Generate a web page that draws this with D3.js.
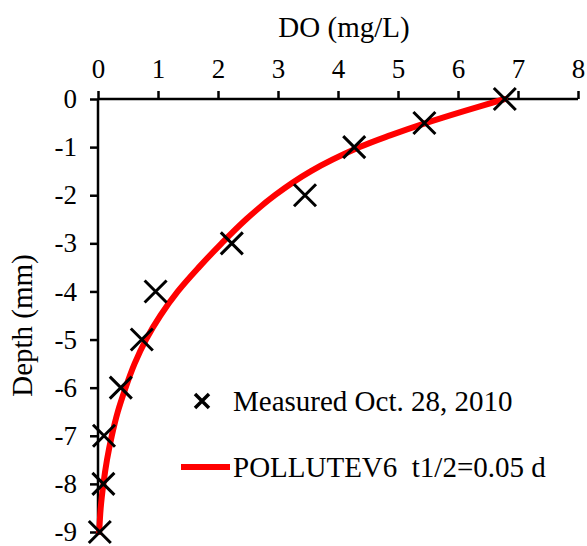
<!DOCTYPE html>
<html>
<head>
<meta charset="utf-8">
<script src="https://cdn.jsdelivr.net/npm/d3@7"></script>
<style>
  html, body { margin: 0; padding: 0; background: #fff; }
</style>
</head>
<body>
<svg id="chart" width="587" height="546"></svg>
<script>
// Measured dissolved oxygen profile (depth in mm, DO in mg/L)
const measuredDepth = [0, -0.5, -1, -2, -3, -4, -5, -6, -7, -8, -9];
const measuredDO    = [6.78, 5.44, 4.27, 3.45, 2.23, 0.96, 0.73, 0.38, 0.10, 0.09, 0.03];

// POLLUTEV6 model profile
const modelDepth = [0, -0.25, -0.5, -0.75, -1, -1.5, -2, -2.5, -3, -3.5, -4, -4.5, -5, -5.5, -6, -6.5, -7, -7.5, -8, -8.5, -9];
const modelDO    = [6.78, 6.1, 5.46, 4.88, 4.36, 3.55, 2.95, 2.47, 2.06, 1.68, 1.33, 1.04, 0.80, 0.61, 0.46, 0.33, 0.23, 0.15, 0.09, 0.045, 0.02];

const xTicks = [0, 1, 2, 3, 4, 5, 6, 7, 8];
const yTicks = [0, -1, -2, -3, -4, -5, -6, -7, -8, -9];

const xTitle = "DO (mg/L)";
const yTitle = "Depth (mm)";
const legendLabels = ["Measured Oct. 28, 2010", "POLLUTEV6  t1/2=0.05 d"];

const FONT = '"Liberation Serif", "Times New Roman", Times, serif';

const svg = d3.select("#chart").style("font-family", FONT);
const x = d3.scaleLinear().domain([0, 8]).range([98, 578]);
const y = d3.scaleLinear().domain([0, -9]).range([99, 532]);

// Top x axis
const xAxis = svg.append("g")
  .attr("transform", `translate(0,${y(0)})`)
  .call(d3.axisTop(x).tickValues(xTicks).tickSize(8).tickPadding(13).tickFormat(d3.format("d")));
// Left y axis
const yAxis = svg.append("g")
  .attr("transform", `translate(${x(0)},0)`)
  .call(d3.axisLeft(y).tickValues(yTicks).tickSize(8).tickPadding(13).tickFormat(d => d === 0 ? "0" : "-" + Math.abs(d)));

[xAxis, yAxis].forEach(g => {
  g.attr("font-family", FONT);
  g.select(".domain").attr("stroke", "#000").attr("stroke-width", 2.5);
  g.selectAll(".tick line").attr("stroke", "#000").attr("stroke-width", 2.5);
  g.selectAll(".tick text").attr("font-size", 27).attr("fill", "#000");
});
xAxis.select(".domain").attr("d", `M${x(0)},0H${x(8)}`);
yAxis.select(".domain").attr("d", `M0,${y(0)}V${y(-9) + 2}`);

svg.append("text")
  .attr("x", (x(0) + x(8)) / 2 + 6)
  .attr("y", 37)
  .attr("text-anchor", "middle")
  .attr("font-size", 29)
  .text(xTitle);

svg.append("text")
  .attr("transform", `translate(32,${(y(0) + y(-9)) / 2 + 10}) rotate(-90)`)
  .attr("text-anchor", "middle")
  .attr("font-size", 29)
  .text(yTitle);

// Model curve
const line = d3.line().x(d => x(d[1])).y(d => y(d[0])).curve(d3.curveCatmullRom.alpha(0.5));
svg.append("path")
  .datum(modelDepth.map((d, i) => [d, modelDO[i]]))
  .attr("d", line)
  .attr("fill", "none")
  .attr("stroke", "#ff0000")
  .attr("stroke-width", 6)
  .attr("stroke-linecap", "round");

// Measured markers (X)
function cross(sel, size, w) {
  const h = size / 2;
  sel.append("path")
    .attr("d", `M${-h},${-h}L${h},${h}M${-h},${h}L${h},${-h}`)
    .attr("stroke", "#000")
    .attr("stroke-width", w)
    .attr("fill", "none");
}
svg.append("g").selectAll("g")
  .data(measuredDepth.map((d, i) => [d, measuredDO[i]]))
  .join("g")
  .attr("transform", d => `translate(${x(d[1])},${y(d[0])})`)
  .each(function () { cross(d3.select(this), 22, 3); });

// Legend
const lg = svg.append("g");
const m = lg.append("g").attr("transform", "translate(202,401)");
cross(m, 14, 3.5);
lg.append("text").attr("x", 233).attr("y", 411).attr("font-size", 29).text(legendLabels[0]);
lg.append("line").attr("x1", 181).attr("x2", 230).attr("y1", 467).attr("y2", 467)
  .attr("stroke", "#ff0000").attr("stroke-width", 6);
lg.append("text").attr("x", 233).attr("y", 477).attr("font-size", 29)
  .attr("xml:space", "preserve").style("white-space", "pre").text(legendLabels[1]);
</script>
</body>
</html>
